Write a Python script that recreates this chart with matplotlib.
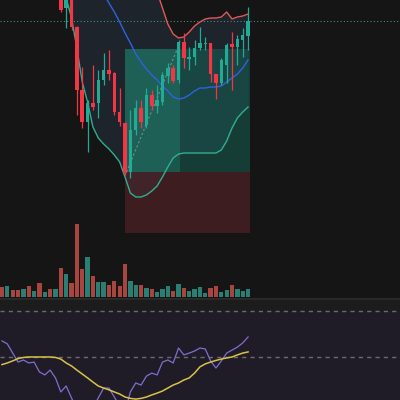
import matplotlib
matplotlib.use("Agg")
import matplotlib.pyplot as plt
import numpy as np

# candle data (price units), 47 bars
opens = [358, 352, 354, 349, 342, 346, 338, 343, 337, 339, 332,
         305, 292, 304, 273, 210, 178, 197, 197, 220, 230, 227, 188, 177,
         128, 170, 192, 175, 205, 194, 198, 224, 232, 220, 258, 241, 243,
         252, 256, 257, 226, 217, 235, 256, 253, 260, 264]
highs = [362, 356, 356, 352, 348, 349, 345, 346, 343, 344, 340,
         308, 308, 306, 274, 233, 200, 235, 230, 247, 250, 228, 212, 178,
         190, 200, 200, 212, 210, 215, 228, 237, 235, 260, 267, 253, 260,
         273, 263, 257, 226, 242, 257, 268, 265, 272, 293]
lows = [349, 348, 346, 339, 338, 335, 334, 333, 332, 330, 326,
        288, 272, 270, 185, 172, 148, 190, 182, 215, 220, 185, 174, 125,
        122, 165, 172, 172, 190, 187, 195, 217, 217, 217, 232, 230, 235,
        250, 250, 218, 201, 215, 217, 210, 235, 243, 250]
closes = [352, 354, 349, 342, 346, 338, 343, 337, 339, 332, 336,
          290, 304, 273, 210, 178, 197, 193, 220, 230, 226, 188, 178, 127,
          170, 192, 178, 205, 194, 200, 225, 232, 219, 258, 242, 243, 252,
          257, 257, 226, 217, 240, 255, 253, 261, 265, 279]

volume = [10, 11, 7, 7, 8, 11, 6, 14, 5, 8, 8, 29, 23, 14, 73, 28, 40, 21,
          15, 15, 12, 16, 11, 33, 16, 12, 12, 9, 8, 5, 8, 11, 6, 13, 9, 6,
          8, 10, 4, 9, 11, 5, 7, 12, 8, 6, 8]

# bollinger bands
bb_upper = [420, 418, 415, 412, 410, 408, 405, 402, 400, 398, 396, 395,
            394, 393, 392, 390, 388, 386, 384, 382, 380, 378, 375, 370,
            362, 355, 345, 335, 325, 308, 292, 276, 266, 262, 263, 268,
            274, 278, 281, 282, 282, 283, 288, 281, 283, 284, 286]
bb_mid = [360, 359, 358, 357, 356, 355, 354, 353, 352, 350, 348, 345,
          340, 335, 330, 326, 322, 318, 314, 306, 297, 288, 278, 267,
          257, 246, 238, 231, 225, 220, 214, 209, 203, 201, 202, 205,
          209, 212, 212, 213, 213, 214, 218, 222, 226, 232, 240]
bb_lower = [335, 333, 331, 329, 327, 325, 323, 321, 318, 315, 312, 308,
            302, 282, 252, 218, 198, 173, 162, 156, 151, 145, 138, 123,
            107, 103, 103, 105, 109, 114, 123, 133, 142, 146, 147, 147,
            147, 147, 147, 147, 147, 150, 159, 172, 182, 188, 193]

# long position tool
entry = 128
target = 251
stop = 67
last_close = closes[-1]

# rsi pane
rsi = [57.0, 55.7, 51.7, 47.8, 48.7, 47.4, 47.8, 43.5, 42.2, 44.3, 40.9,
       34.8, 37.4, 32.2, 27.0, 24.8, 28.7, 27.8, 32.2, 36.5, 36.5, 32.6,
       28.7, 26.1, 34.8, 38.7, 37.8, 41.7, 43.0, 42.2, 47.8, 48.7, 47.4,
       53.9, 50.9, 51.7, 52.6, 53.9, 53.5, 48.3, 45.2, 48.3, 51.7, 53.0,
       54.3, 56.1, 58.7]
rsi_ma = [46.7, 47.4, 48.3, 49.3, 49.8, 50.0, 50.0, 50.0, 50.0, 50.0, 49.8,
          49.1, 47.4, 46.1, 44.3, 42.6, 40.9, 39.1, 37.4, 36.5, 35.7, 34.8,
          33.9, 32.6, 32.0, 31.7, 32.0, 32.6, 33.5, 34.3, 35.2, 36.5, 37.8,
          38.7, 40.0, 40.9, 43.0, 45.7, 47.0, 47.8, 48.5, 49.1, 49.6, 50.0,
          50.9, 51.7, 52.2]

bg = "#151515"
up_c = "#22ab94"
dn_c = "#f23645"

fig = plt.figure(figsize=(4, 4), dpi=100, facecolor=bg)
H = 400.0
ax = fig.add_axes([0, 1 - 297 / H, 1, 297 / H], facecolor=bg)
axv = ax.twinx()
axr = fig.add_axes([0, 0, 1, 102 / H], facecolor="#19181c")

x = np.arange(len(closes))
xl = (-0.37, 74.4)

# bands
ax.fill_between(x, bb_lower, bb_upper, color="#3a5a80", alpha=0.22, lw=0, zorder=1)
ax.plot(x, bb_upper, color="#e0595a", lw=1, zorder=3)
ax.plot(x, bb_mid, color="#2f62e0", lw=1, zorder=3)
ax.plot(x, bb_lower, color="#2fae91", lw=1, zorder=3)

# position boxes
x0, x1, xm = 22.99, 46.45, 33.3
ax.fill_between([x0, xm], entry, target, color="#1f9a80", alpha=0.5, lw=0, zorder=2)
ax.fill_between([xm, x1], entry, target, color="#15705e", alpha=0.45, lw=0, zorder=2)
ax.fill_between([x0, x1], stop, entry, color="#5a2428", alpha=0.6, lw=0, zorder=2)
ax.plot([x0 + 0.3, xm], [entry, 258], color="#b0b0b0", lw=0.8, ls=(0, (2, 2)), alpha=0.6, zorder=4)

# last price line
ax.axhline(last_close, color="#3f8f80", lw=0.8, ls=(0, (1, 2)), zorder=2)

# candles
for i in range(len(closes)):
    c = up_c if closes[i] >= opens[i] else dn_c
    ax.vlines(i, lows[i], highs[i], color=c, lw=0.9, zorder=5)
    lo, hi = sorted([opens[i], closes[i]])
    ax.bar(i, max(hi - lo, 0.8), bottom=lo, width=0.66, color=c, lw=0, zorder=5)

ax.set_xlim(*xl)
ax.set_ylim(3, 300)

# volume
vcol = ["#2a7f74" if closes[i] >= opens[i] else "#a9453f" for i in range(len(closes))]
axv.bar(x, volume, width=0.8, color=vcol, lw=0, zorder=1)
axv.set_ylim(0, 297)
axv.set_xlim(*xl)

for a in (ax, axv, axr):
    a.set_xticks([])
    a.set_yticks([])
    for s in a.spines.values():
        s.set_visible(False)

# rsi pane
rtop = 31.3 + 102 / 2.3
axr.axhspan(70, rtop, color="#1c1c1c", lw=0)
axr.axhspan(30, 70, color="#7e57c2", alpha=0.07, lw=0)
axr.axhline(70, color="#6b6b6b", lw=1, ls=(0, (3, 3)))
axr.axhline(50, color="#6b6b6b", lw=1, ls=(0, (3, 3)))
axr.plot(x, rsi, color="#7e6fd0", lw=0.9)
axr.plot(x, rsi_ma, color="#d9c24a", lw=1.1)
axr.set_xlim(*xl)
axr.set_ylim(31.3, rtop)
axr.axhline(rtop, color="#2a2a2a", lw=2)

fig.savefig("out.png", dpi=100, facecolor=bg)
